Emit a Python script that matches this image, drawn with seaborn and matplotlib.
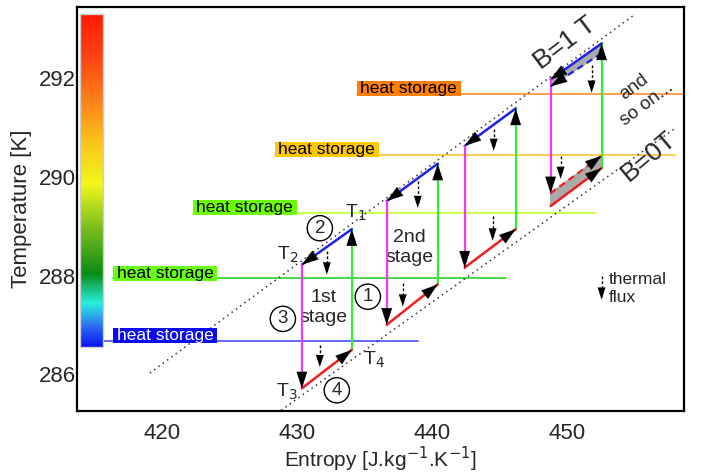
import numpy as np
import pandas as pd
import seaborn as sns
import matplotlib.pyplot as plt
from matplotlib.colors import LinearSegmentedColormap

# heat storage levels (K) and their label boxes
store_T = [286.67, 287.94, 289.27, 290.45, 291.69]
store_S_end = [438.96, 445.5, 452.07, 458.0, 460.0]
store_box_S = [416.37, 416.37, 422.29, 428.37, 434.44]
store_line_col = ["#5a5aff", "#3fd23f", "#c8ff3c", "#ffc83c", "#ff9640"]
store_box_col = ["#0a0af0", "#66ff11", "#6cff00", "#ffc800", "#ff8000"]
store_txt_col = ["white", "black", "black", "black", "black"]

# cycle corners for each stage
S_lo = [430.37, 436.66, 442.44, 448.81]
S_hi = [434.07, 440.44, 446.22, 452.59]
T_1 = [288.94, 290.27, 291.39, 292.71]
T_2 = [288.22, 289.51, 290.63, 291.98]
T_3 = [285.71, 287.0, 288.16, 289.41]
T_4 = [286.49, 287.82, 288.94, 290.18]
# dashed (next cycle) lines of the last stage
T_1d, T_2d, T_3d, T_4d = 292.51, 291.84, 289.67, 290.43

# B=1T and B=0T isofield lines
B1_S = [419.1, 455.0]
B1_T = [286.02, 293.29]
B0_S = [428.5, 458.0]
B0_T = [285.2, 290.98]

# thermal flux arrows (S, T top, T bottom)
flux_S = [432.22, 431.70, 438.96, 437.85, 444.59, 444.51, 451.85, 449.55, 452.59]
flux_top = [288.49, 286.59, 289.92, 287.84, 290.98, 289.20, 292.27, 290.43, 287.98]
flux_bot = [288.02, 286.14, 289.37, 287.37, 290.53, 288.71, 291.71, 289.96, 287.51]

# colour bar stops (fraction from bottom)
cbar_pos = [0.0, 0.06, 0.13, 0.22, 0.36, 0.49, 0.62, 0.72, 0.87, 1.0]
cbar_col = ["#0a14f5", "#2c6cf5", "#2af0e0", "#0a8c14", "#7cc01e", "#f2f81c",
            "#fbc21a", "#fb8c1a", "#ff4414", "#ff1a00"]

sns.set_style("white")
plt.rcParams["font.family"] = ["Liberation Sans", "DejaVu Sans"]

fig = plt.figure(figsize=(7.08, 4.73), dpi=100)
ax = fig.add_axes([0.1088, 0.1311, 0.8573, 0.8541])
ax.set_xlim(413.7, 458.7)
ax.set_ylim(285.25, 293.45)

BLUE, RED, GREEN, MAG = "#2020e8", "#f01e1e", "#33ee33", "#f03cf0"


def head(x0, y0, x1, y1, size=15):
    ax.annotate("", xy=(x1, y1), xytext=(x0, y0),
                arrowprops=dict(arrowstyle="-|>,head_length=0.8,head_width=0.26",
                                fc="black", ec="black", lw=0,
                                shrinkA=0, shrinkB=0, mutation_scale=size),
                zorder=6)


# colour bar inside the axes
cmap = LinearSegmentedColormap.from_list("tc", list(zip(cbar_pos, cbar_col)))
grad = np.linspace(0, 1, 256).reshape(-1, 1)
ax.imshow(grad, cmap=cmap, origin="lower", aspect="auto",
          extent=[413.9, 415.6, 286.55, 293.3], zorder=2)
ax.add_patch(plt.Rectangle((413.9, 286.55), 1.7, 6.75, fill=False, ec="#cccccc", lw=1, zorder=3))

# heat storage lines and label boxes
for i in range(len(store_T)):
    x0 = 415.6 if i == 0 else store_box_S[i]
    sns.lineplot(x=[x0, store_S_end[i]], y=[store_T[i], store_T[i]], ax=ax,
                 color=store_line_col[i], lw=1.3, zorder=1)
    ax.add_patch(plt.Rectangle((store_box_S[i], store_T[i] - 0.05), 7.7, 0.31,
                               fc=store_box_col[i], ec="none", zorder=2))
    ax.text(store_box_S[i] + 3.85, store_T[i] + 0.105, "heat storage", ha="center", va="center",
            fontsize=12.5, color=store_txt_col[i], zorder=3)

# isofield lines
for xs, ys in [(B1_S, B1_T), (B0_S, B0_T)]:
    sns.lineplot(x=xs, y=ys, ax=ax, color="#333333", lw=1.1, linestyle=(0, (1, 2.5)), zorder=1)

# gray fills on the last stage
ax.fill([S_hi[3], S_lo[3], S_lo[3], S_hi[3]], [T_1[3], T_2[3], T_2d, T_1d], color="#aaaaaa", zorder=3)
ax.fill([S_lo[3], S_hi[3], S_hi[3], S_lo[3]], [T_3[3], T_4[3], T_4d, T_3d], color="#aaaaaa", zorder=3)

# cycles
for k in range(4):
    t3 = T_3d if k == 3 else T_3[k]
    ax.plot([S_hi[k], S_hi[k]], [T_4[k], T_1[k]], color=GREEN, lw=1.6, zorder=4)
    head(S_hi[k], T_4[k], S_hi[k], T_1[k])
    ax.plot([S_hi[k], S_lo[k]], [T_1[k], T_2[k]], color=BLUE, lw=1.8, zorder=4)
    head(S_hi[k], T_1[k], S_lo[k], T_2[k])
    ax.plot([S_lo[k], S_lo[k]], [T_2[k], t3], color=MAG, lw=1.6, zorder=4)
    head(S_lo[k], T_2[k], S_lo[k], t3)
    ax.plot([S_lo[k], S_hi[k]], [T_3[k], T_4[k]], color=RED, lw=1.8, zorder=4)
    head(S_lo[k], T_3[k], S_hi[k], T_4[k])

ax.plot([S_hi[3], S_lo[3]], [T_1d, T_2d], color=BLUE, lw=1.6, ls=(0, (3, 2)), zorder=4)
head(S_hi[3], T_1d, S_lo[3], T_2d)
ax.plot([S_lo[3], S_hi[3]], [T_3d, T_4d], color=RED, lw=1.6, ls=(0, (3, 2)), zorder=4)
head(S_lo[3], T_3d, S_hi[3], T_4d)

# thermal flux arrows
for x, yt, yb in zip(flux_S, flux_top, flux_bot):
    ax.plot([x, x], [yt, yb + 0.08], color="black", lw=1, ls=(0, (2, 1.5)), zorder=5)
    head(x, yt, x, yb, size=11)

ax.text(453.1, 287.73, "thermal\nflux", ha="left", va="center", fontsize=12.5, linespacing=1.25)

# labels on the cycle
ax.text(434.37, 289.27, "T$_1$", ha="center", va="center", fontsize=14)
ax.text(429.33, 288.41, "T$_2$", ha="center", va="center", fontsize=14)
ax.text(429.26, 285.63, "T$_3$", ha="center", va="center", fontsize=14)
ax.text(435.7, 286.29, "T$_4$", ha="center", va="center", fontsize=14)
circ = dict(boxstyle="circle,pad=0.22", fc="none", ec="black", lw=1)
for s, t, n in [(435.26, 287.57, "1"), (431.7, 288.96, "2"), (428.96, 287.12, "3"), (432.96, 285.67, "4")]:
    ax.text(s, t, n, ha="center", va="center", fontsize=13.5, bbox=circ)
ax.text(432.0, 287.35, "1st\nstage", ha="center", va="center", fontsize=14, linespacing=1.2)
ax.text(438.37, 288.57, "2nd\nstage", ha="center", va="center", fontsize=14, linespacing=1.2)
ax.text(449.85, 292.71, "B=1 T", ha="center", va="center", fontsize=19, rotation=37)
ax.text(456.07, 290.43, "B=0T", ha="center", va="center", fontsize=19, rotation=40)
ax.text(455.48, 291.65, "and\nso on...", ha="center", va="center", fontsize=13.5, rotation=37,
        linespacing=1.3)

# axes
ax.set_xticks([420, 430, 440, 450])
ax.set_yticks([286, 288, 290, 292])
ax.tick_params(length=0, labelsize=16)
ax.tick_params(axis="x", pad=9)
ax.tick_params(axis="y", pad=1)
ax.set_xlabel("Entropy [J.kg$^{-1}$.K$^{-1}$]", fontsize=15, labelpad=0)
ax.set_ylabel("Temperature [K]", fontsize=16, labelpad=5)
for sp in ax.spines.values():
    sp.set_color("black")
    sp.set_linewidth(1.6)

fig.savefig("out.png", dpi=100)
